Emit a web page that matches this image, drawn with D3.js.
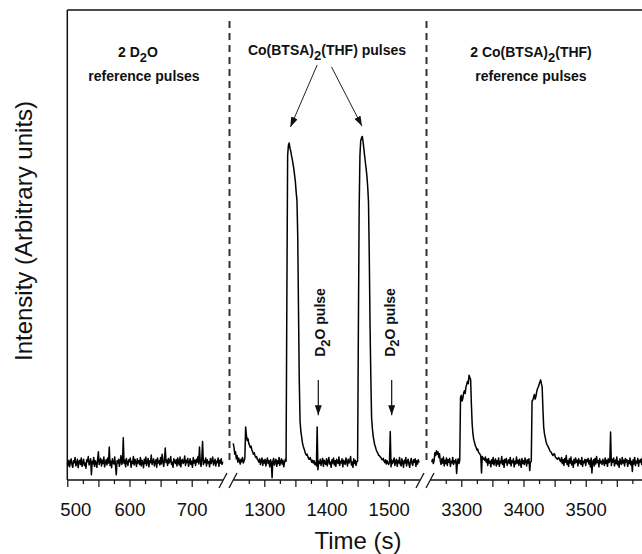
<!DOCTYPE html>
<html>
<head>
<meta charset="utf-8">
<script src="https://cdn.jsdelivr.net/npm/d3@7"></script>
<style>
  body { margin: 0; background: #fff; }
  svg { display: block; font-family: "Liberation Sans", Arial, sans-serif; }
</style>
</head>
<body>
<div id="chart"></div>
<script>
// Time segments of the broken x axis (s)
let segDomains = [[500, 750], [1250, 1550], [3250, 3600]]
let segStarts = [500, 1250, 3252.5]   // first sample of each trace piece
let sampleStep = 1.25                  // s between samples

// intensity, arbitrary units
let seg1Values = [
  36,31,42,28,39,45,33,27,41,37,48,30,35,44,26,39,42,33,47,29,
  38,44,31,36,25,43,39,50,32,37,45,11,40,34,48,29,41,36,27,44,
  60,33,39,46,30,42,35,49,28,38,43,32,47,36,70,31,40,26,45,37,
  34,49,30,11,41,36,44,29,39,52,33,38,90,35,42,28,46,37,31,43,
  39,47,27,40,35,50,32,44,38,29,45,36,41,33,48,30,42,37,26,44,
  35,49,31,39,46,28,41,37,53,33,40,45,30,38,43,27,47,36,41,32,
  48,34,55,39,29,44,68,37,42,31,46,36,40,50,33,38,27,45,41,35,
  43,30,47,37,32,49,28,40,44,35,39,51,31,42,37,46,29,38,45,33,
  40,27,48,36,42,31,44,38,50,34,70,39,29,45,82,33,41,37,47,30,
  43,36,39,28,46,35,41,49,32,38,44,30,40,37,47,29,42,36,45,33,
  39]
let seg2Values = [
  78,70,55,60,45,52,38,47,41,34,44,39,48,36,41,46,113,95,84,88,
  78,74,69,72,64,60,55,58,52,48,50,44,42,38,45,33,40,47,31,42,
  36,44,30,39,47,35,41,28,43,37,5,40,46,32,38,44,29,41,35,48,
  31,39,45,34,42,28,37,44,40,380,690,712,717,706,700,690,682,672,662,648,
  634,612,595,520,360,210,125,104,92,80,72,67,62,56,53,55,50,45,44,48,
  43,38,42,36,41,33,37,30,113,22,40,35,44,31,39,46,29,42,37,33,
  45,30,40,48,34,38,27,43,36,47,32,41,29,44,38,35,49,31,40,36,
  45,28,42,37,33,47,39,30,44,36,41,50,32,38,27,45,35,42,31,39,
  40,320,575,690,722,728,731,720,706,690,676,662,646,624,592,480,330,220,132,110,
  94,84,75,70,64,60,57,53,52,49,48,44,43,46,40,37,43,34,41,36,
  33,38,103,28,42,35,40,47,31,39,44,29,41,36,48,33,30,45,38,27,
  42,36,48,30,39,44,34,27,40,46,35,31,43,38,45,29,41,34,43,37]
let seg3Values = [
  38,44,35,41,58,52,62,55,60,48,56,40,33,45,36,49,30,42,35,47,
  31,43,38,46,29,40,36,48,33,41,37,44,14,38,45,35,42,176,180,168,
  174,185,190,184,198,204,210,205,223,218,214,160,118,98,86,80,73,70,64,66,
  60,57,55,52,15,50,47,44,42,49,38,44,31,46,36,40,28,43,35,48,
  32,39,45,30,41,34,47,29,40,36,50,33,42,27,44,37,46,31,39,43,
  35,48,30,41,37,45,28,40,34,49,36,42,31,44,38,27,46,35,41,33,
  47,39,30,43,36,45,20,38,40,168,170,176,182,172,178,188,194,198,203,208,
  213,205,198,150,112,98,90,82,76,73,70,66,62,60,58,54,52,56,55,49,
  47,45,44,48,46,41,39,48,35,43,31,46,38,52,33,41,29,45,36,49,
  32,40,27,44,35,47,38,42,30,45,36,41,33,48,29,40,37,44,31,43,
  39,46,34,42,28,47,15,39,43,30,46,34,50,37,41,28,45,36,40,33,
  44,38,31,47,35,42,29,45,37,40,102,31,44,38,47,30,42,35,49,32,
  40,27,45,37,33,48,36,42,30,46,38,43,29,41,35,47,32,40,18,43,
  34,48,31,40,36,46,29,42,38,44,33,47,30,41,37,45,28,43,36,40]

let tickLabels = [[500, 600, 700], [1300, 1400, 1500], [3300, 3400, 3500]]
let majorTicks = [[500, 550, 600, 650, 700], [1300, 1350, 1400, 1450, 1500], [3300, 3350, 3400, 3450, 3500, 3550]]
let minorTicks = [[525, 575, 625, 675, 725], [1275, 1325, 1375, 1425, 1475, 1525], [3275, 3325, 3375, 3425, 3475, 3525, 3575]]

let width = 642, height = 554
let plotLeft = 67.3, plotTop = 10, plotBottom = 480
let pxPerSec = 0.622, gap = 10.4

d3.selectAll('svg').remove()

let svg = d3.select('div#chart')
  .append('svg')
    .attr('width', width)
    .attr('height', height)

// one x scale per axis piece
let xs = []
let left = plotLeft
segDomains.forEach(d => {
  let w = (d[1] - d[0]) * pxPerSec
  xs.push(d3.scaleLinear().domain(d).range([left, left + w]))
  left += w + gap
})
let y = d3.scaleLinear().domain([0, 1000]).range([plotBottom, plotTop])

let defs = svg.append('defs')
defs.append('marker')
    .attr('id', 'head')
    .attr('markerUnits', 'userSpaceOnUse')
    .attr('markerWidth', 10).attr('markerHeight', 7)
    .attr('refX', 10).attr('refY', 3.5)
    .attr('orient', 'auto')
  .append('path')
    .attr('d', 'M0,0 L10,3.5 L0,7 z')
    .attr('fill', '#111')

// frame: top and left
svg.append('line')
  .attr('x1', plotLeft).attr('x2', width + 5)
  .attr('y1', plotTop).attr('y2', plotTop)
  .attr('stroke', '#111').attr('stroke-width', 1.5)
svg.append('line')
  .attr('x1', plotLeft).attr('x2', plotLeft)
  .attr('y1', plotTop).attr('y2', plotBottom)
  .attr('stroke', '#111').attr('stroke-width', 1.5)

// dashed separators between the experiment phases
for (let i = 0; i < 2; i++) {
  let gx = (xs[i].range()[1] + xs[i + 1].range()[0]) / 2 + 1.5
  svg.append('line')
    .attr('x1', gx).attr('x2', gx)
    .attr('y1', 21).attr('y2', 464)
    .attr('stroke', '#333').attr('stroke-width', 2)
    .attr('stroke-dasharray', '7,5')
}

// traces
let allValues = [seg1Values, seg2Values, seg3Values]
allValues.forEach((vals, s) => {
  let pts = vals.map((v, i) => [segStarts[s] + i * sampleStep, v])
  let line = d3.line()
    .x(d => xs[s](d[0]))
    .y(d => y(d[1]))
  svg.append('path')
    .datum(pts)
    .attr('d', line)
    .attr('fill', 'none')
    .attr('stroke', '#000')
    .attr('stroke-width', 1.5)
    .attr('stroke-linejoin', 'round')
})

// broken x axis
xs.forEach((x, s) => {
  let r = x.range()
  svg.append('line')
    .attr('x1', r[0]).attr('x2', Math.min(r[1], width + 5))
    .attr('y1', plotBottom).attr('y2', plotBottom)
    .attr('stroke', '#111').attr('stroke-width', 1.5)

  let minor = svg.append('g')
    .attr('transform', `translate(0, ${plotBottom})`)
    .call(d3.axisBottom(x).tickValues(minorTicks[s]).tickSize(4).tickSizeOuter(0).tickFormat(''))
  minor.select('.domain').remove()

  let major = svg.append('g')
    .attr('transform', `translate(0, ${plotBottom})`)
    .call(d3.axisBottom(x).tickValues(majorTicks[s]).tickSize(7).tickSizeOuter(0)
      .tickFormat(d => tickLabels[s].includes(d) ? d : ''))
  major.select('.domain').remove()
  major.selectAll('.tick line').attr('stroke', '#111').attr('stroke-width', 1.2)
  minor.selectAll('.tick line').attr('stroke', '#111').attr('stroke-width', 1.2)
  major.selectAll('text')
    .attr('y', 36).attr('dy', 0)
    .attr('font-size', 18.5)
    .attr('font-family', '"Liberation Sans", Arial, sans-serif')
    .attr('fill', '#111')
})
// first label sits a little right of its tick in the original
svg.selectAll('.tick text').filter(d => d === 500).attr('dx', 8)

// axis break marks
for (let i = 0; i < 2; i++) {
  let gx = (xs[i].range()[1] + xs[i + 1].range()[0]) / 2
  ;[-5, 5].forEach(o => {
    svg.append('line')
      .attr('x1', gx + o - 4).attr('y1', plotBottom + 8)
      .attr('x2', gx + o + 4).attr('y2', plotBottom - 7)
      .attr('stroke', '#111').attr('stroke-width', 1.3)
  })
}

// axis titles
svg.append('text')
  .attr('x', 358).attr('y', 549)
  .attr('text-anchor', 'middle')
  .attr('font-size', 24)
  .attr('fill', '#111')
  .text('Time (s)')
svg.append('text')
  .attr('transform', 'translate(32, 231) rotate(-90)')
  .attr('text-anchor', 'middle')
  .attr('font-size', 24)
  .attr('fill', '#111')
  .text('Intensity (Arbitrary units)')

// phase labels
function subText(x, yPos, parts, anchor) {
  let t = svg.append('text')
    .attr('x', x).attr('y', yPos)
    .attr('text-anchor', anchor || 'middle')
    .attr('font-size', 14)
    .attr('font-weight', 'bold')
    .attr('fill', '#111')
  parts.forEach(p => {
    let ts = t.append('tspan').text(p.t)
    if (p.sub) ts.attr('dy', 4.5).attr('font-size', 13)
    if (p.back) ts.attr('dy', -4.5)
  })
  return t
}
subText(138, 57, [{t: '2 D'}, {t: '2', sub: true}, {t: 'O', back: true}])
subText(144, 81, [{t: 'reference pulses'}])
subText(327, 55, [{t: 'Co(BTSA)'}, {t: '2', sub: true}, {t: '(THF) pulses', back: true}])
subText(531, 57, [{t: '2 Co(BTSA)'}, {t: '2', sub: true}, {t: '(THF)', back: true}])
subText(531, 81, [{t: 'reference pulses'}])

// arrows to the two precursor peaks
let x2 = xs[1]
let peakArrows = [[1385, 883, 1342, 751], [1408, 879, 1457, 753]]
peakArrows.forEach(a => {
  svg.append('line')
    .attr('x1', x2(a[0])).attr('y1', y(a[1]))
    .attr('x2', x2(a[2])).attr('y2', y(a[3]))
    .attr('stroke', '#222').attr('stroke-width', 1)
    .attr('marker-end', 'url(#head)')
})

// D2O pulse markers
let d2oArrows = [1386.8, 1504.8]
let d2oText = [1398, 1510]
d2oArrows.forEach((t, i) => {
  svg.append('line')
    .attr('x1', x2(t)).attr('y1', y(213))
    .attr('x2', x2(t)).attr('y2', y(138))
    .attr('stroke', '#111').attr('stroke-width', 1.2)
    .attr('marker-end', 'url(#head)')
  let tx = svg.append('text')
    .attr('transform', `translate(${x2(d2oText[i])}, ${y(262)}) rotate(-90)`)
    .attr('font-size', 14)
    .attr('font-weight', 'bold')
    .attr('fill', '#111')
  tx.append('tspan').text('D')
  tx.append('tspan').text('2').attr('dy', 4.5).attr('font-size', 13)
  tx.append('tspan').text('O pulse').attr('dy', -4.5)
})
</script>
</body>
</html>
